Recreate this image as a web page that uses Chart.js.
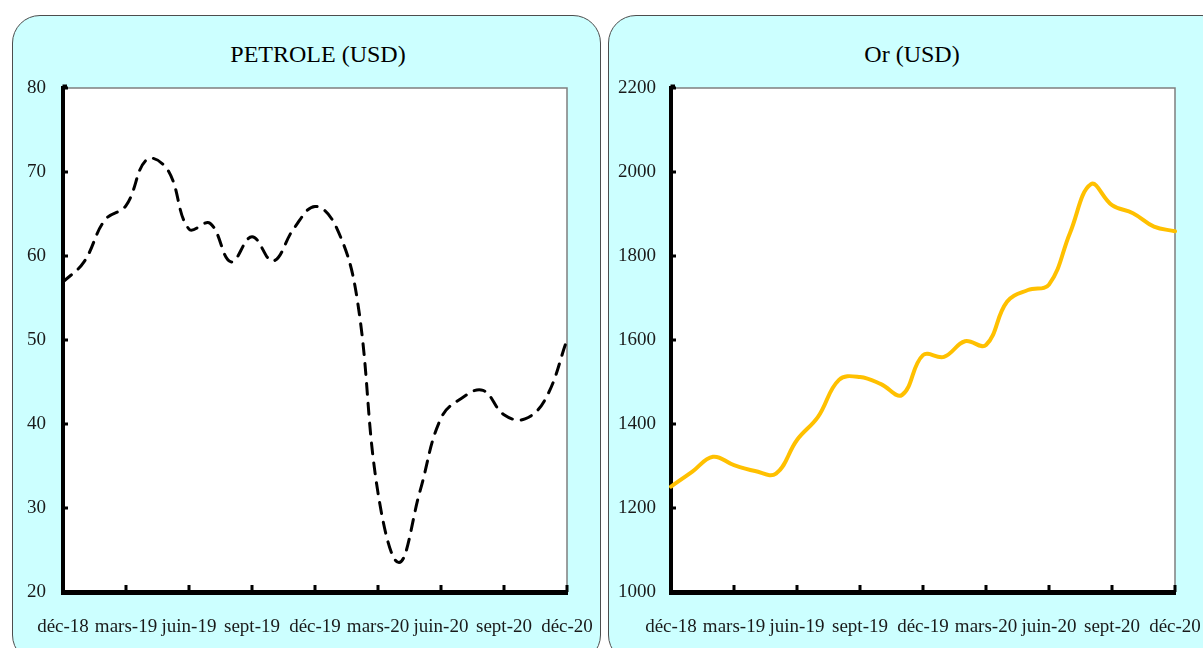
<!DOCTYPE html>
<html>
<head>
<meta charset="utf-8">
<script src="https://cdn.jsdelivr.net/npm/chart.js"></script>
<style>
  body { margin: 0; width: 1203px; height: 648px; overflow: hidden; position: relative; background: #fff; }
  .panel { position: absolute; top: 15px; height: 646px; background: #ccffff; border: 1px solid #4d4d4d; border-radius: 28px; }
  #p1 { left: 12px; width: 587px; }
  #p2 { left: 608px; width: 620px; }
  canvas { position: absolute; top: 15px; }
  #c1 { left: 0px; }
  #c2 { left: 608px; }
  .title { position: absolute; top: 39px; width: 300px; text-align: center; line-height: 30px;
           font-family: 'Liberation Serif', 'Times New Roman', serif; font-size: 24px; color: #000; }
  #t1 { left: 168px; }
  #t2 { left: 762px; }
</style>
</head>
<body>
<div class="panel" id="p1"></div>
<div class="panel" id="p2"></div>
<div class="title" id="t1">PETROLE (USD)</div>
<div class="title" id="t2">Or (USD)</div>
<canvas id="c1" width="601" height="633"></canvas>
<canvas id="c2" width="600" height="633"></canvas>
<script>
// monthly points, déc-18 .. déc-20
var months = ['déc-18', 'janv-19', 'févr-19', 'mars-19', 'avr-19', 'mai-19', 'juin-19', 'juil-19', 'août-19',
  'sept-19', 'oct-19', 'nov-19', 'déc-19', 'janv-20', 'févr-20', 'mars-20', 'avr-20', 'mai-20', 'juin-20',
  'juil-20', 'août-20', 'sept-20', 'oct-20', 'nov-20', 'déc-20'];

var petrole = [56.9, 59.3, 64.3, 66.0, 71.5, 70.2, 63.2, 63.9, 59.3, 62.3, 59.4, 63.3, 65.9,
  63.5, 55.0, 31.8, 23.5, 32.0, 40.7, 43.1, 44.0, 41.1, 40.6, 43.1, 50.0];

var or = [1251, 1286, 1322, 1302, 1288, 1282, 1362, 1417, 1505, 1512, 1495, 1469, 1564,
  1560, 1597, 1588, 1691, 1719, 1732, 1855, 1971, 1921, 1902, 1870, 1859];

var petroleTicks = [20, 30, 40, 50, 60, 70, 80];
var orTicks = [1000, 1200, 1400, 1600, 1800, 2000, 2200];

Chart.defaults.font.family = "'Liberation Serif', 'Times New Roman', serif";
Chart.defaults.color = '#1a1a1a';

// white plot area, thin grey top/right edge, small tick marks pointing inwards
var frame = {
  id: 'frame',
  beforeDraw: function(chart) {
    var ctx = chart.ctx, a = chart.chartArea;
    ctx.save();
    ctx.fillStyle = '#ffffff';
    ctx.fillRect(a.left, a.top, a.right - a.left, a.bottom - a.top);
    ctx.strokeStyle = '#7f7f7f';
    ctx.lineWidth = 1.5;
    ctx.beginPath();
    ctx.moveTo(a.left, a.top);
    ctx.lineTo(a.right, a.top);
    ctx.lineTo(a.right, a.bottom);
    ctx.stroke();
    ctx.restore();
  },
  afterDraw: function(chart) {
    var ctx = chart.ctx, a = chart.chartArea, x = chart.scales.x, y = chart.scales.y;
    ctx.save();
    ctx.strokeStyle = '#000';
    ctx.lineWidth = 3;
    ctx.beginPath();
    months.forEach(function(m, i) {
      if (i > 0 && i % 3 === 0) {
        var px = x.getPixelForValue(i);
        ctx.moveTo(px, a.bottom);
        ctx.lineTo(px, a.bottom - 7);
      }
    });
    y.ticks.forEach(function(t) {
      var py = y.getPixelForValue(t.value);
      ctx.moveTo(a.left, py);
      ctx.lineTo(a.left + 5, py);
    });
    // axis sticks out a little above the plot
    ctx.moveTo(a.left - 0.5, a.top - 2);
    ctx.lineTo(a.left + 4, a.top - 2);
    ctx.stroke();
    ctx.restore();
  }
};

function makeChart(id, values, dataset, yTicks, padLeft, yWidth, padRight, yPad) {
  var ctx = document.getElementById(id).getContext('2d');
  return new Chart(ctx, {
    type: 'line',
    data: {
      labels: months,
      datasets: [Object.assign({ data: values, pointRadius: 0, tension: 0.4, fill: false }, dataset)]
    },
    options: {
      responsive: false,
      animation: false,
      devicePixelRatio: 1,
      layout: { padding: { left: padLeft, right: padRight, top: 73, bottom: 0 } },
      plugins: {
        legend: { display: false },
        tooltip: { enabled: false },
        title: { display: false }
      },
      scales: {
        x: {
          grid: { display: true, drawOnChartArea: false, drawTicks: false },
          border: { display: true, color: '#000', width: 5 },
          ticks: {
            autoSkip: false, maxRotation: 0, minRotation: 0, padding: 24,
            font: { size: 19 },
            callback: function(v, i) { return i % 3 === 0 ? months[i] : null; }
          },
          afterFit: function(s) { s.height = 56; s.paddingLeft = 0; s.paddingRight = 0; }
        },
        y: {
          min: yTicks[0],
          max: yTicks[yTicks.length - 1],
          afterBuildTicks: function(s) { s.ticks = yTicks.map(function(v) { return { value: v }; }); },
          grid: { display: true, drawOnChartArea: false, drawTicks: false },
          border: { display: true, color: '#000', width: 4 },
          ticks: { padding: yPad, font: { size: 19 }, callback: function(v) { return String(v); } },
          afterFit: function(s) { s.width = yWidth; s.paddingTop = 0; s.paddingBottom = 0; }
        }
      }
    },
    plugins: [frame]
  });
}

makeChart('c1', petrole,
  { borderColor: '#000', borderWidth: 3, borderDash: [11, 9], borderCapStyle: 'round' },
  petroleTicks, 10, 53, 34, 17);

makeChart('c2', or,
  { borderColor: '#ffc000', borderWidth: 4, borderCapStyle: 'round' },
  orTicks, 5, 58, 33, 15);
</script>
</body>
</html>
